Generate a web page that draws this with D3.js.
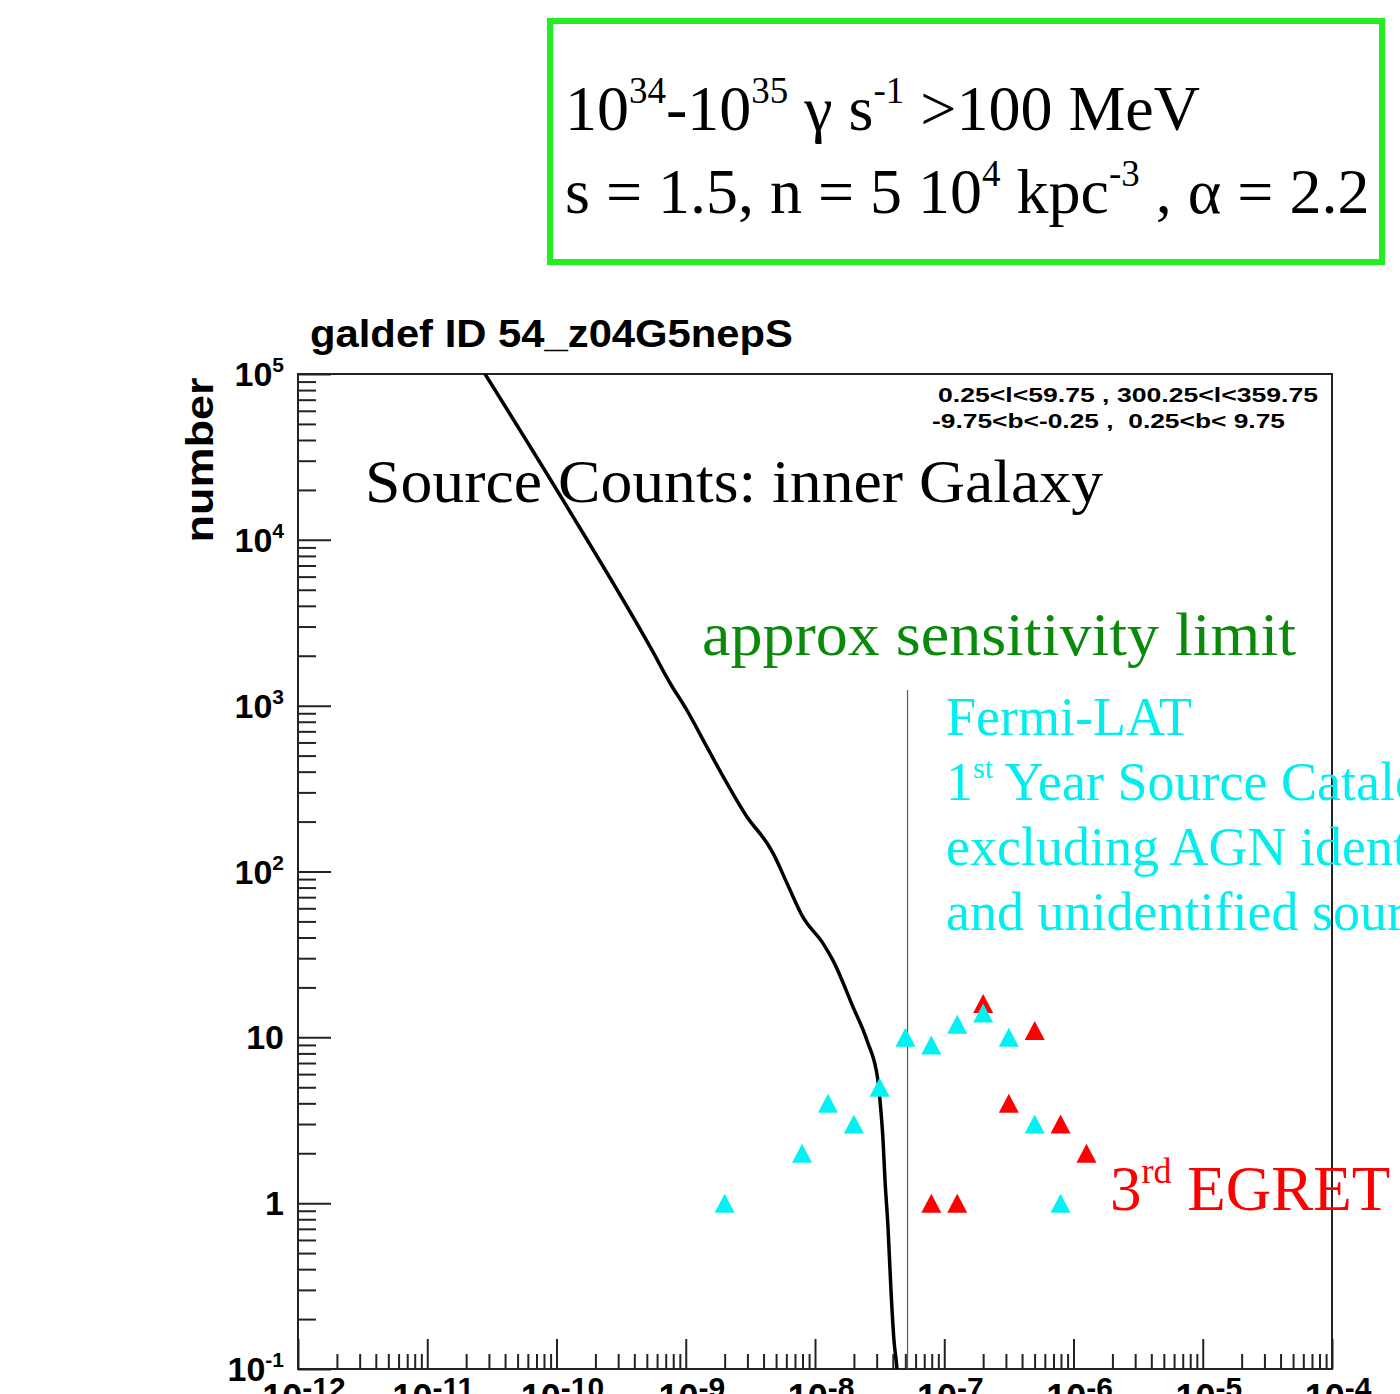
<!DOCTYPE html>
<html>
<head>
<meta charset="utf-8">
<script src="https://cdn.jsdelivr.net/npm/d3@7"></script>
<style>
  body { margin: 0; background: #fff; }
  svg { display: block; }
</style>
</head>
<body>
<svg></svg>
<script>
const width = 1400;
const height = 1394;

// model source counts, N(>S) vs S (ph cm^-2 s^-1)
const modelFlux = [2.80e-11, 1.12e-10, 5.48e-10, 7.55e-10, 1.02e-9, 1.46e-9, 2.08e-9,
  2.98e-9, 4.26e-9, 4.73e-9, 6.07e-9, 8.07e-9, 1.15e-8, 1.38e-8, 1.97e-8, 2.52e-8,
  3.07e-8, 3.18e-8, 3.36e-8, 3.48e-8, 3.67e-8, 3.87e-8, 4.08e-8, 4.31e-8, 4.5e-8];
const modelCounts = [1e5, 17400, 2160, 1370, 940, 562, 341, 213, 148, 129, 85, 53, 37,
  29, 15.2, 9.6, 5.5, 4.2, 2.4, 1.38, 0.72, 0.30, 0.15, 0.10, 0.06];

// Fermi-LAT 1st year catalogue
const fermiFlux = [2.0e-9, 7.94e-9, 1.26e-8, 2.0e-8, 3.16e-8, 5.01e-8, 7.94e-8,
  1.26e-7, 2.0e-7, 3.16e-7, 5.01e-7, 7.94e-7];
const fermiCounts = [1, 2, 4, 3, 5, 10, 9, 12, 14, 10, 3, 1];

// 3rd EGRET catalogue
const egretFlux = [7.94e-8, 1.26e-7, 2.0e-7, 3.16e-7, 5.01e-7, 7.94e-7, 1.26e-6];
const egretCounts = [1, 1, 16, 4, 11, 3, 2];

const sensitivityLimit = 5.2e-8;

const xDecades = [-12, -11, -10, -9, -8, -7, -6, -5, -4];
const yDecades = [-1, 0, 1, 2, 3, 4, 5];

const plotLeft = 298, plotRight = 1332, plotTop = 374, plotBottom = 1369;

const x = d3.scaleLog().domain([1e-12, 1e-4]).range([plotLeft, plotRight]);
const y = d3.scaleLog().domain([0.1, 1e5]).range([plotBottom, plotTop]);

const svg = d3.select("svg")
  .attr("width", width)
  .attr("height", height)
  .attr("font-family", "Liberation Sans, Arial, sans-serif");

svg.append("defs").append("clipPath")
  .attr("id", "plot")
  .append("rect")
    .attr("x", plotLeft).attr("y", plotTop)
    .attr("width", plotRight - plotLeft).attr("height", plotBottom - plotTop);

// parameter box
svg.append("rect")
  .attr("x", 550).attr("y", 21)
  .attr("width", 832).attr("height", 241)
  .attr("fill", "none")
  .attr("stroke", "#22ee22")
  .attr("stroke-width", 6);

const serif = "Liberation Serif, Times New Roman, serif";

function richText(sel, parts, size, supSize, rise) {
  let up = false;
  parts.forEach(function (p) {
    const t = sel.append("tspan").text(p.t);
    if (p.sup) {
      t.attr("font-size", supSize).attr("dy", up ? 0 : -rise);
      up = true;
    } else {
      t.attr("font-size", size).attr("dy", up ? rise : 0);
      up = false;
    }
  });
}

richText(svg.append("text").attr("x", 565).attr("y", 130).attr("font-family", serif),
  [{t: "10"}, {t: "34", sup: true}, {t: "-10"}, {t: "35", sup: true},
   {t: " \u03b3 s"}, {t: "-1", sup: true}, {t: " >100 MeV"}], 64, 37, 27);

richText(svg.append("text").attr("x", 565).attr("y", 213).attr("font-family", serif),
  [{t: "s = 1.5, n = 5 10"}, {t: "4", sup: true}, {t: " kpc"}, {t: "-3", sup: true},
   {t: " , \u03b1 = 2.2"}], 64, 37, 27);

// title
svg.append("text")
  .attr("x", 310).attr("y", 347)
  .attr("font-size", 38).attr("font-weight", "bold")
  .attr("textLength", 483).attr("lengthAdjust", "spacingAndGlyphs")
  .text("galdef ID 54_z04G5nepS");

// y title
svg.append("text")
  .attr("transform", "translate(213,460) rotate(-90)")
  .attr("text-anchor", "middle")
  .attr("font-size", 38).attr("font-weight", "bold")
  .attr("textLength", 165).attr("lengthAdjust", "spacingAndGlyphs")
  .text("number");

// axes: ticks inside the frame
const xMinor = x.ticks().filter(function (d) { return Math.abs(Math.log10(d) % 1) > 1e-6; });
const yMinor = y.ticks().filter(function (d) { return Math.abs(Math.log10(d) % 1) > 1e-6; });

function styleAxis(g) {
  g.select(".domain").remove();
  g.selectAll(".tick line").attr("stroke", "#222").attr("stroke-width", 2);
  g.selectAll(".tick text").remove();
}

svg.append("g")
  .attr("transform", "translate(" + plotLeft + ",0)")
  .call(d3.axisLeft(y).tickValues(yDecades.map(function (e) { return Math.pow(10, e); })).tickSize(-33))
  .call(styleAxis);
svg.append("g")
  .attr("transform", "translate(" + plotLeft + ",0)")
  .call(d3.axisLeft(y).tickValues(yMinor).tickSize(-18))
  .call(styleAxis);
svg.append("g")
  .attr("transform", "translate(0," + plotBottom + ")")
  .call(d3.axisBottom(x).tickValues(xDecades.map(function (e) { return Math.pow(10, e); })).tickSize(-30))
  .call(styleAxis);
svg.append("g")
  .attr("transform", "translate(0," + plotBottom + ")")
  .call(d3.axisBottom(x).tickValues(xMinor).tickSize(-15))
  .call(styleAxis);

// y tick labels
yDecades.forEach(function (e) {
  const t = svg.append("text")
    .attr("x", 284).attr("y", y(Math.pow(10, e)) + 12)
    .attr("text-anchor", "end")
    .attr("font-weight", "bold");
  if (e === 0 || e === 1) {
    t.attr("font-size", 34).text(e === 0 ? "1" : "10");
  } else {
    t.append("tspan").attr("font-size", 34).text("10");
    t.append("tspan").attr("font-size", 21).attr("dy", -14).text(String(e));
  }
});

// x tick labels (the page edge cuts them, as in the original)
xDecades.forEach(function (e) {
  const t = svg.append("text")
    .attr("x", x(Math.pow(10, e)) + 6).attr("y", 1410)
    .attr("text-anchor", "middle")
    .attr("font-weight", "bold");
  t.append("tspan").attr("font-size", 36).text("10");
  t.append("tspan").attr("font-size", 30).attr("dy", -12).text(String(e));
});

// frame
svg.append("rect")
  .attr("x", plotLeft).attr("y", plotTop)
  .attr("width", plotRight - plotLeft).attr("height", plotBottom - plotTop)
  .attr("fill", "none")
  .attr("stroke", "#222")
  .attr("stroke-width", 2);

// region text
svg.append("text")
  .attr("x", 938).attr("y", 402)
  .attr("font-size", 20).attr("font-weight", "bold")
  .attr("textLength", 380).attr("lengthAdjust", "spacingAndGlyphs")
  .text("0.25<l<59.75 , 300.25<l<359.75");
svg.append("text")
  .attr("x", 932).attr("y", 428)
  .attr("font-size", 20).attr("font-weight", "bold")
  .attr("textLength", 353).attr("lengthAdjust", "spacingAndGlyphs")
  .attr("xml:space", "preserve")
  .text("-9.75<b<-0.25 ,  0.25<b< 9.75");

svg.append("text")
  .attr("x", 365).attr("y", 502)
  .attr("font-family", serif).attr("font-size", 62)
  .attr("textLength", 738).attr("lengthAdjust", "spacingAndGlyphs")
  .text("Source Counts: inner Galaxy");

svg.append("text")
  .attr("x", 702).attr("y", 655)
  .attr("font-family", serif).attr("font-size", 62)
  .attr("fill", "#0a8a0a")
  .attr("textLength", 594).attr("lengthAdjust", "spacingAndGlyphs")
  .text("approx sensitivity limit");

// sensitivity line
svg.append("line")
  .attr("x1", x(sensitivityLimit)).attr("x2", x(sensitivityLimit))
  .attr("y1", 690).attr("y2", plotBottom)
  .attr("stroke", "#2a7a2a")
  .attr("stroke-width", 1.2);

// model curve
const line = d3.line()
  .x(function (d, i) { return x(modelFlux[i]); })
  .y(function (d) { return y(d); })
  .curve(d3.curveMonotoneX);

svg.append("path")
  .attr("clip-path", "url(#plot)")
  .attr("d", line(modelCounts))
  .attr("fill", "none")
  .attr("stroke", "#000")
  .attr("stroke-width", 3.5);

// catalogue markers
const tri = "M0,-9.5L10,9.5L-10,9.5Z";

svg.append("g").selectAll("path")
  .data(egretFlux)
  .enter().append("path")
    .attr("d", tri)
    .attr("fill", "#ff0000")
    .attr("transform", function (d, i) { return "translate(" + x(d) + "," + y(egretCounts[i]) + ")"; });

svg.append("g").selectAll("path")
  .data(fermiFlux)
  .enter().append("path")
    .attr("d", tri)
    .attr("fill", "#00f2f2")
    .attr("transform", function (d, i) { return "translate(" + x(d) + "," + y(fermiCounts[i]) + ")"; });

// catalogue labels
const fermiLines = ["Fermi-LAT", null, "excluding AGN identifications", "and unidentified sources"];
fermiLines.forEach(function (s, i) {
  const t = svg.append("text")
    .attr("x", 946).attr("y", 735 + i * 65)
    .attr("font-family", serif).attr("font-size", 54)
    .attr("fill", "#00eeee");
  if (s) {
    t.text(s);
  } else {
    t.append("tspan").text("1");
    t.append("tspan").attr("font-size", 30).attr("dy", -22).text("st");
    t.append("tspan").attr("dy", 22).text(" Year Source Catalog");
  }
});

const eg = svg.append("text")
  .attr("x", 1110).attr("y", 1210)
  .attr("font-family", serif).attr("font-size", 63)
  .attr("fill", "#ff0000");
eg.append("tspan").text("3");
eg.append("tspan").attr("font-size", 36).attr("dy", -27).text("rd");
eg.append("tspan").attr("dy", 27).text(" EGRET");
</script>
</body>
</html>
